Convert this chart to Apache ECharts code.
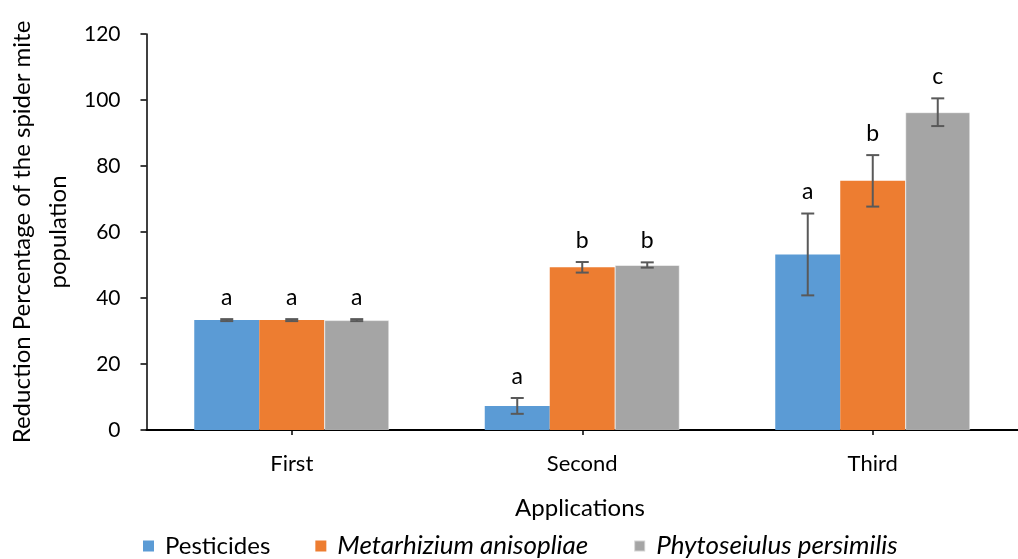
<!DOCTYPE html>
<html>
<head>
<meta charset="utf-8">
<script src="https://cdn.jsdelivr.net/npm/echarts@6/dist/echarts.min.js"></script>
<style>
  html, body { margin: 0; padding: 0; background: #fff; }
  #chart { width: 1018px; height: 559px; }
</style>
</head>
<body>
<div id="chart"></div>
<script>
// Reduction of the spider mite population after each application
const categories = ['First', 'Second', 'Third'];
const seriesNames = ['Pesticides', 'Metarhizium anisopliae', 'Phytoseiulus persimilis'];
const pesticides = [33.3, 7.3, 53.2];
const metarhizium = [33.3, 49.3, 75.5];
const phytoseiulus = [33.3, 50.0, 96.3];
const pesticidesErr = [0.3, 2.4, 12.4];
const metarhiziumErr = [0.3, 1.6, 7.8];
const phytoseiulusErr = [0.3, 0.8, 4.2];
const pesticidesLetters = ['a', 'a', 'a'];
const metarhiziumLetters = ['a', 'b', 'b'];
const phytoseiulusLetters = ['a', 'b', 'c'];
const yTicks = [0, 20, 40, 60, 80, 100, 120];

const colors = ['#5B9BD5', '#ED7D31', '#A5A5A5'];
const FONT = 'Lato, "Open Sans", sans-serif';
const BAR_W = 65;

const values = [pesticides, metarhizium, phytoseiulus];
const errors = [pesticidesErr, metarhiziumErr, phytoseiulusErr];
const letters = [pesticidesLetters, metarhiziumLetters, phytoseiulusLetters];

function errorSeries(idx) {
  const data = categories.map((c, i) => [i, values[idx][i], errors[idx][i], letters[idx][i]]);
  return {
    type: 'custom',
    name: seriesNames[idx] + ' error',
    z: 10,
    data: data,
    encode: { x: 0, y: 1 },
    renderItem: function (params, api) {
      const x = api.value(0);
      const v = api.value(1);
      const e = api.value(2);
      const letter = api.value(3);
      const off = (idx - 1) * BAR_W;
      const top = api.coord([x, v + e]);
      const bot = api.coord([x, v - e]);
      const cx = top[0] + off;
      const cap = 6.5;
      const st = { stroke: '#595959', lineWidth: 2 };
      return {
        type: 'group',
        children: [
          { type: 'line', shape: { x1: cx, y1: top[1], x2: cx, y2: bot[1] }, style: st },
          { type: 'line', shape: { x1: cx - cap, y1: top[1], x2: cx + cap, y2: top[1] }, style: st },
          { type: 'line', shape: { x1: cx - cap, y1: bot[1], x2: cx + cap, y2: bot[1] }, style: st },
          {
            type: 'text',
            style: {
              text: letter, x: cx, y: top[1] - 10,
              align: 'center', verticalAlign: 'bottom',
              fill: '#000', font: '23px ' + FONT
            }
          }
        ]
      };
    }
  };
}

const chart = echarts.init(document.getElementById('chart'), null, { renderer: 'canvas' });

const barSeries = seriesNames.map((name, idx) => ({
  type: 'bar',
  name: name,
  data: values[idx],
  barWidth: BAR_W,
  barGap: '0%',
  itemStyle: { color: colors[idx], borderColor: 'rgba(255,255,255,0.5)', borderWidth: idx === 2 ? 1 : 0 },
  emphasis: { disabled: true }
}));

chart.setOption({
  animation: false,
  grid: { left: 146.5, top: 34, bottom: 129, width: 881.5, containLabel: false },
  legend: {
    left: 138, top: 528,
    itemWidth: 11, itemHeight: 11, itemGap: 45,
    icon: 'rect',
    data: seriesNames.map((n, i) => ({
      name: n,
      textStyle: i === 0 ? { fontStyle: 'normal' } : { fontStyle: 'italic', fontSize: 26 }
    })),
    textStyle: { fontFamily: FONT, fontSize: 24, color: '#000', padding: [0, 0, 0, 6] }
  },
  xAxis: {
    type: 'category',
    data: categories,
    axisLine: { lineStyle: { color: '#000', width: 2 } },
    axisTick: { show: true, alignWithLabel: true, length: 5, lineStyle: { color: '#000', width: 1.5 } },
    axisLabel: { color: '#000', fontFamily: FONT, fontSize: 22, margin: 23 },
    splitLine: { show: false }
  },
  yAxis: {
    type: 'value',
    min: yTicks[0], max: yTicks[yTicks.length - 1], interval: 20,
    axisLine: { show: true, lineStyle: { color: '#000', width: 1.5 } },
    axisTick: { show: true, length: 6, lineStyle: { color: '#000', width: 1.5 } },
    axisLabel: { color: '#000', fontFamily: FONT, fontSize: 21, margin: 26 },
    splitLine: { show: false }
  },
  graphic: [
    {
      type: 'text', x: 580, y: 508,
      style: { text: 'Applications', fill: '#000', font: '24px ' + FONT, align: 'center', verticalAlign: 'middle' }
    },
    {
      type: 'text', x: 22, y: 232, rotation: Math.PI / 2,
      style: { text: 'Reduction Percentage of the spider mite', fill: '#000', font: '24px ' + FONT, align: 'center', verticalAlign: 'middle' }
    },
    {
      type: 'text', x: 58, y: 232, rotation: Math.PI / 2,
      style: { text: 'population', fill: '#000', font: '24px ' + FONT, align: 'center', verticalAlign: 'middle' }
    }
  ],
  series: barSeries.concat([errorSeries(0), errorSeries(1), errorSeries(2)])
});
</script>
</body>
</html>
